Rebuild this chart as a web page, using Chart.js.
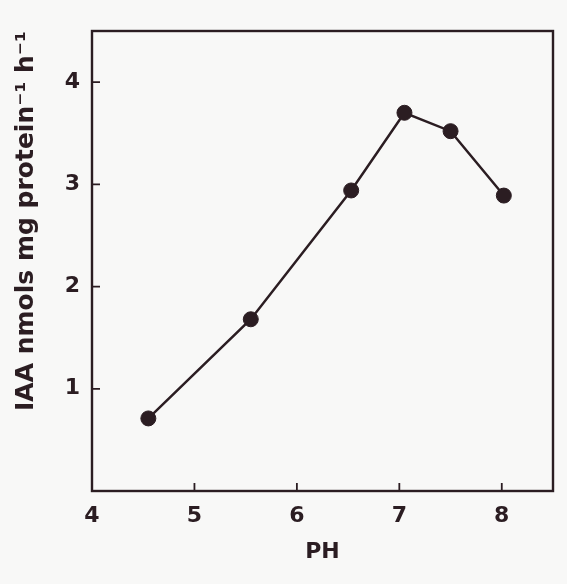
<!DOCTYPE html>
<html>
<head>
<meta charset="utf-8">
<script src="https://cdn.jsdelivr.net/npm/chart.js@4"></script>
<style>
  html, body { margin: 0; padding: 0; background: #f8f8f7; }
  #wrap { width: 567px; height: 584px; }
</style>
</head>
<body>
<div id="wrap"><canvas id="c" width="567" height="584"></canvas></div>
<script>
// Data
const pHValues = [4.55, 5.55, 6.53, 7.05, 7.5, 8.02];
const iaaValues = [0.71, 1.68, 2.94, 3.70, 3.52, 2.89];
const xTicks = [4, 5, 6, 7, 8];
const yTicks = [1, 2, 3, 4];
const xTitle = 'PH';
const yTitle = 'IAA nmols mg protein\u207B\u00B9 h\u207B\u00B9';

const ink = '#2b1d22';
const fontFam = '"DejaVu Sans", "Liberation Sans", sans-serif';

const frameAndTicks = {
  id: 'frameAndTicks',
  afterDatasetsDraw(chart) {
    const { ctx, chartArea: a, scales } = chart;
    ctx.save();
    ctx.strokeStyle = ink;
    ctx.lineWidth = 2.4;
    ctx.strokeRect(a.left, a.top, a.right - a.left, a.bottom - a.top);
    ctx.lineWidth = 1.8;
    ctx.beginPath();
    xTicks.forEach(v => {
      const x = scales.x.getPixelForValue(v);
      ctx.moveTo(x, a.bottom);
      ctx.lineTo(x, a.bottom - 8);
    });
    yTicks.forEach(v => {
      const y = scales.y.getPixelForValue(v);
      ctx.moveTo(a.left, y);
      ctx.lineTo(a.left + 8, y);
    });
    ctx.stroke();
    ctx.restore();
  }
};

new Chart(document.getElementById('c'), {
  type: 'scatter',
  data: {
    datasets: [{
      data: pHValues.map((x, i) => ({ x: x, y: iaaValues[i] })),
      showLine: true,
      borderColor: ink,
      borderWidth: 2.5,
      backgroundColor: ink,
      pointBackgroundColor: ink,
      pointBorderColor: ink,
      pointBorderWidth: 1,
      pointRadius: 7.5,
      tension: 0
    }]
  },
  options: {
    responsive: false,
    animation: false,
    layout: { padding: { top: 31, right: 14, left: 0, bottom: 0 } },
    plugins: { legend: { display: false }, tooltip: { enabled: false } },
    scales: {
      x: {
        type: 'linear',
        min: 4, max: 8.5,
        afterFit(s) { s.height = 93; },
        afterBuildTicks(s) { s.ticks = xTicks.map(v => ({ value: v })); },
        grid: { display: false, drawTicks: false },
        border: { display: false },
        ticks: {
          color: ink,
          padding: 12,
          font: { family: fontFam, size: 22, weight: 'bold' }
        },
        title: {
          display: true,
          text: xTitle,
          color: ink,
          padding: { top: 4, bottom: 19 },
          font: { family: fontFam, size: 22, weight: 'bold' }
        }
      },
      y: {
        type: 'linear',
        min: 0, max: 4.5,
        afterFit(s) { s.width = 92; },
        afterBuildTicks(s) { s.ticks = yTicks.map(v => ({ value: v })); },
        grid: { display: false, drawTicks: false },
        border: { display: false },
        ticks: {
          color: ink,
          padding: 12,
          font: { family: fontFam, size: 22, weight: 'bold' }
        },
        title: {
          display: true,
          text: yTitle,
          align: 'end',
          color: ink,
          padding: { top: 11, bottom: 0 },
          font: { family: fontFam, size: 25, weight: 'bold' }
        }
      }
    }
  },
  plugins: [frameAndTicks]
});
</script>
</body>
</html>
